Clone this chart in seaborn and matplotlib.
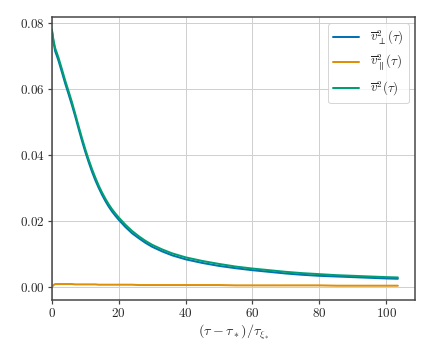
import numpy as np
import pandas as pd
import matplotlib
matplotlib.use("Agg")
import matplotlib.pyplot as plt
import seaborn as sns

# Data
tau = [0, 0.5, 1, 1.5, 2, 3, 4, 5, 6, 7, 8, 9, 10, 11, 12, 13, 14, 15, 16,
       17, 18, 19, 20, 22, 24, 26, 28, 30, 33, 36, 40, 45, 50, 55, 60, 65,
       70, 75, 80, 85, 90, 95, 100, 103.5]
v2_total = [.0780, .0748, .0724, .0710, .0695, .0661, .0626, .0594, .0561,
            .0525, .0488, .0452, .0418, .0387, .0358, .0332, .0308, .0287,
            .0268, .0251, .0236, .0223, .0211, .0189, .0170, .0154, .0140,
            .0128, .0114, .0102, .0090, .0079, .0070, .0062, .0056, .0051,
            .0046, .0042, .0039, .0036, .0034, .0032, .0030, .0029]
v2_par = [.0000, .0006, .0009, .0009, .0009, .0009, .0009, .0009, .0009,
          .0008, .0008, .0008, .0008, .0008, .0008, .0008, .0007, .0007,
          .0007, .0007, .0007, .0007, .0007, .0007, .0007, .0006, .0006,
          .0006, .0006, .0006, .0006, .0006, .0006, .0005, .0005, .0005,
          .0005, .0005, .0005, .0004, .0004, .0004, .0004, .0004]
v2_perp = [.0780, .0742, .0715, .0701, .0686, .0652, .0617, .0585, .0552,
           .0517, .0480, .0444, .0410, .0379, .0350, .0324, .0301, .0280,
           .0261, .0244, .0229, .0216, .0204, .0182, .0163, .0148, .0134,
           .0122, .0108, .0096, .0084, .0073, .0064, .0057, .0051, .0046,
           .0041, .0037, .0034, .0032, .0030, .0028, .0026, .0025]

labels = [r"$\overline{v}^2_\perp(\tau)$",
          r"$\overline{v}^2_\parallel(\tau)$",
          r"$\overline{v}^2(\tau)$"]

sns.set_style("whitegrid")
plt.rcParams["font.family"] = "serif"
plt.rcParams["font.serif"] = ["cmr10", "DejaVu Serif"]
plt.rcParams["mathtext.fontset"] = "cm"
plt.rcParams["axes.formatter.use_mathtext"] = True

colors = sns.color_palette("colorblind")

fig = plt.figure(figsize=(6, 5), dpi=72)
ax = fig.add_axes([0.12, 0.167, 0.841, 0.786])

for vals, lab, col in zip([v2_perp, v2_par, v2_total], labels, colors[:3]):
    sns.lineplot(x=tau, y=vals, ax=ax, color=col, lw=2, label=lab)

ax.set_xlim(left=0)
ax.set_xticks([0, 20, 40, 60, 80, 100])
ax.set_yticks([0.0, 0.02, 0.04, 0.06, 0.08])
ax.yaxis.set_major_formatter(matplotlib.ticker.FormatStrFormatter(r"$%.2f$"))
ax.xaxis.set_major_formatter(matplotlib.ticker.FormatStrFormatter(r"$%d$"))
ax.set_xlabel(r"$(\tau-\tau_*)/\tau_{\xi_*}$", fontsize=14, labelpad=3)
ax.grid(True, color="#d0d0d0", lw=1)

for s in ax.spines.values():
    s.set_color("#444444")
    s.set_linewidth(1.5)
ax.tick_params(axis="both", which="major", length=4, width=1.2, color="#444444",
               direction="out", bottom=True, left=True, labelsize=13, pad=3)

ax.legend(loc="upper right", fontsize=13, frameon=True, fancybox=True,
          framealpha=0.8, edgecolor="#cccccc", handlelength=2.0)

fig.savefig("out.png", dpi=72)
